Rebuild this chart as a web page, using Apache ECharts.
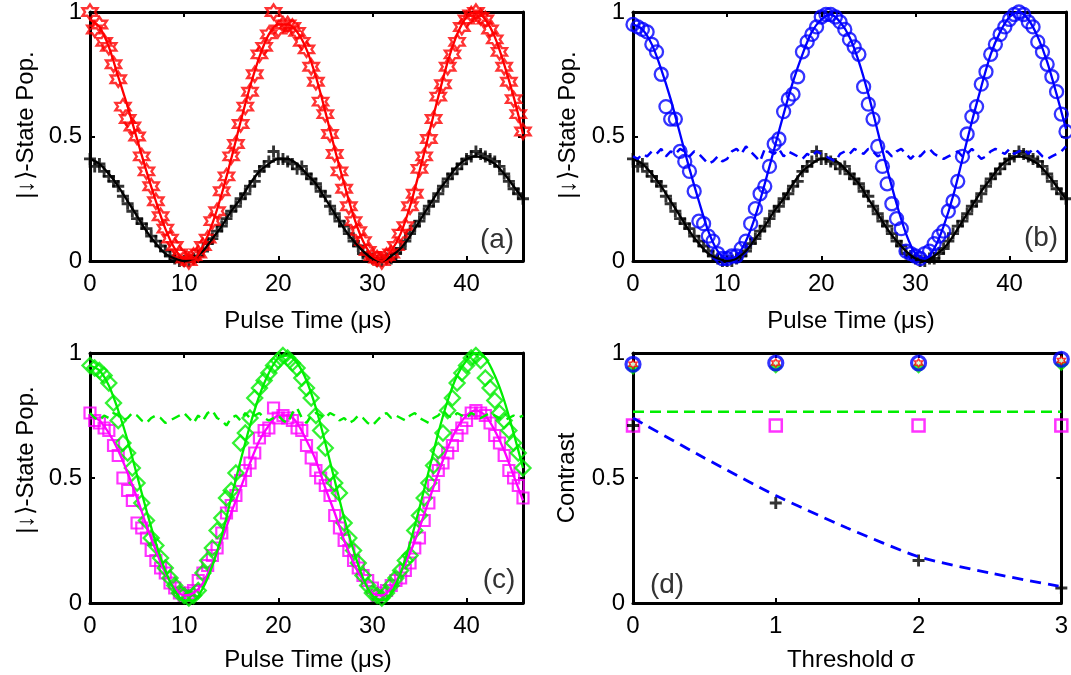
<!DOCTYPE html>
<html>
<head>
<meta charset="utf-8">
<script src="https://cdn.jsdelivr.net/npm/echarts@6/dist/echarts.min.js"></script>
<style>
html,body{margin:0;padding:0;background:#fff;}
#chart{width:1071px;height:675px;}
</style>
</head>
<body>
<div id="chart"></div>
<script>
// ---------- DATA ----------
const tData = [0,0.5,1,1.5,2,2.5,3,3.5,4,4.5,5,5.5,6,6.5,7,7.5,8,8.5,9,9.5,
10,10.5,11,11.5,12,12.5,13,13.5,14,14.5,15,15.5,16,16.5,17,17.5,18,18.5,19,19.5,
20,20.5,21,21.5,22,22.5,23,23.5,24,24.5,25,25.5,26,26.5,27,27.5,28,28.5,29,29.5,
30,30.5,31,31.5,32,32.5,33,33.5,34,34.5,35,35.5,36,36.5,37,37.5,38,38.5,39,39.5,
40,40.5,41,41.5,42,42.5,43,43.5,44,44.5,45,45.5,46];
const tFit = [0,1,2,3,4,5,6,7,8,9,10,11,12,13,14,15,16,17,18,19,20,21,22,23,24,25,26,27,28,29,30,31,32,33,34,35,36,37,38,39,40,41,42,43,44,45,46];

// panel (a): red hexagrams
const redData = [1.00,0.93,0.95,0.88,0.86,0.79,0.73,0.62,0.57,0.54,
0.50,0.42,0.36,0.30,0.24,0.18,0.13,0.09,0.06,0.03,
0.01,0.00,0.02,0.03,0.06,0.09,0.16,0.20,0.28,0.34,
0.42,0.47,0.55,0.62,0.68,0.75,0.83,0.86,0.91,1.00,
0.93,0.95,0.95,0.94,0.92,0.88,0.85,0.78,0.72,0.64,
0.59,0.51,0.43,0.36,0.29,0.22,0.16,0.12,0.08,0.04,
0.02,0.01,0.00,0.02,0.03,0.06,0.11,0.14,0.22,0.27,
0.37,0.42,0.49,0.57,0.66,0.71,0.78,0.83,0.88,0.94,
0.97,0.99,1.00,0.98,0.97,0.93,0.89,0.84,0.78,0.72,
0.65,0.59,0.52];
const redFit = [0.97,0.94,0.86,0.74,0.62,0.49,0.36,0.24,0.13,0.05,0.01,0.01,0.06,0.15,0.27,0.41,0.56,0.70,0.82,0.91,0.95,0.95,0.92,0.85,0.74,0.60,0.45,0.31,0.18,0.08,0.02,0.00,0.04,0.11,0.22,0.36,0.51,0.66,0.80,0.91,0.98,1.00,0.97,0.90,0.79,0.66,0.51];

// panels (a),(b): black pluses
const blackData = [0.41,0.38,0.39,0.36,0.34,0.32,0.30,0.26,0.23,0.20,
0.17,0.15,0.13,0.10,0.08,0.06,0.04,0.02,0.01,0.00,
0.00,0.00,0.01,0.02,0.04,0.07,0.09,0.12,0.14,0.17,
0.20,0.22,0.25,0.27,0.30,0.32,0.36,0.38,0.40,0.44,
0.41,0.41,0.40,0.39,0.37,0.38,0.35,0.33,0.31,0.28,
0.26,0.22,0.19,0.16,0.14,0.11,0.08,0.06,0.03,0.02,
0.01,0.00,0.00,0.01,0.01,0.03,0.05,0.08,0.11,0.14,
0.16,0.19,0.22,0.24,0.27,0.30,0.33,0.35,0.37,0.39,
0.41,0.42,0.44,0.43,0.42,0.41,0.40,0.38,0.35,0.32,
0.29,0.27,0.25];
const blackFit = [0.41,0.39,0.35,0.30,0.24,0.18,0.12,0.07,0.03,0.01,0.00,0.01,0.04,0.09,0.14,0.20,0.25,0.31,0.36,0.39,0.41,0.41,0.39,0.35,0.31,0.25,0.19,0.13,0.08,0.04,0.01,0.00,0.02,0.05,0.10,0.16,0.22,0.28,0.33,0.38,0.41,0.42,0.41,0.39,0.35,0.30,0.25];

// panel (b): blue circles, blue dashed
const blueData = [0.95,0.94,0.93,0.92,0.87,0.84,0.75,0.62,0.57,0.57,
0.44,0.40,0.36,0.28,0.16,0.15,0.10,0.08,0.03,0.01,
0.01,0.02,0.02,0.05,0.08,0.15,0.21,0.27,0.30,0.38,
0.47,0.49,0.60,0.65,0.67,0.74,0.84,0.88,0.91,0.94,
0.98,0.99,0.99,0.98,0.96,0.93,0.89,0.86,0.83,0.70,
0.63,0.57,0.46,0.38,0.31,0.23,0.17,0.13,0.04,0.03,
0.02,0.01,0.03,0.04,0.07,0.10,0.12,0.20,0.24,0.32,
0.42,0.51,0.58,0.62,0.71,0.76,0.83,0.87,0.91,0.94,
0.97,0.99,1.00,0.99,0.96,0.94,0.88,0.84,0.79,0.74,
0.68,0.59,0.52];
const blueFit = [0.95,0.93,0.87,0.77,0.65,0.51,0.37,0.24,0.12,0.04,0.01,0.02,0.08,0.18,0.31,0.45,0.59,0.72,0.83,0.92,0.97,0.99,0.96,0.90,0.80,0.67,0.52,0.37,0.23,0.11,0.03,0.01,0.05,0.14,0.26,0.41,0.56,0.70,0.83,0.92,0.98,1.00,0.97,0.90,0.80,0.67,0.53];
const blueDash = [0.42,0.41,0.43,0.42,0.44,0.43,0.45,0.42,0.44,0.43,
0.45,0.44,0.42,0.44,0.43,0.41,0.39,0.40,0.42,0.40,
0.41,0.44,0.45,0.43,0.46,0.44,0.42,0.40,0.45,0.44,
0.43,0.45,0.42,0.44,0.43,0.42,0.41,0.43,0.42,0.44,
0.43,0.42,0.41,0.40,0.43,0.44,0.43,0.45,0.44,0.43,
0.45,0.44,0.42,0.43,0.44,0.42,0.44,0.45,0.43,0.41,
0.43,0.42,0.44,0.45,0.43,0.42,0.41,0.42,0.43,0.44,
0.42,0.43,0.45,0.43,0.41,0.42,0.44,0.45,0.44,0.43,
0.45,0.43,0.44,0.45,0.43,0.45,0.44,0.42,0.41,0.42,
0.43,0.44,0.46];

// panel (c): green diamonds, magenta squares, green dashed
const greenData = [0.95,0.94,0.93,0.91,0.88,0.80,0.73,0.64,0.60,0.54,
0.48,0.40,0.33,0.26,0.23,0.18,0.14,0.10,0.07,0.04,
0.03,0.02,0.03,0.05,0.12,0.17,0.22,0.29,0.34,0.42,
0.45,0.52,0.64,0.68,0.74,0.82,0.86,0.89,0.92,0.95,
0.97,0.99,0.98,0.96,0.94,0.90,0.86,0.82,0.75,0.69,
0.62,0.52,0.48,0.44,0.32,0.26,0.21,0.16,0.11,0.07,
0.04,0.03,0.02,0.04,0.07,0.10,0.13,0.17,0.19,0.29,
0.35,0.42,0.48,0.55,0.61,0.68,0.77,0.82,0.88,0.92,
0.95,0.98,0.99,0.97,0.90,0.86,0.81,0.76,0.73,0.69,
0.64,0.60,0.54];
const greenFit = [0.95,0.93,0.87,0.77,0.65,0.51,0.37,0.24,0.13,0.05,0.01,0.01,0.06,0.15,0.27,0.42,0.57,0.71,0.83,0.92,0.98,0.99,0.96,0.89,0.78,0.64,0.49,0.34,0.21,0.10,0.03,0.01,0.04,0.12,0.24,0.38,0.53,0.68,0.81,0.91,0.97,1.00,0.98,0.91,0.81,0.68,0.54];
const magentaData = [0.76,0.73,0.72,0.70,0.69,0.63,0.59,0.50,0.45,0.41,
0.32,0.30,0.26,0.21,0.17,0.14,0.12,0.08,0.06,0.04,
0.03,0.04,0.05,0.09,0.12,0.15,0.19,0.22,0.28,0.36,
0.39,0.43,0.49,0.53,0.56,0.60,0.66,0.69,0.70,0.78,
0.74,0.75,0.74,0.73,0.70,0.69,0.63,0.58,0.53,0.50,
0.47,0.43,0.35,0.30,0.25,0.21,0.17,0.14,0.11,0.09,
0.06,0.03,0.04,0.05,0.07,0.09,0.10,0.13,0.16,0.22,
0.26,0.33,0.40,0.47,0.53,0.56,0.60,0.63,0.67,0.70,
0.73,0.76,0.77,0.76,0.75,0.72,0.67,0.64,0.59,0.53,
0.50,0.47,0.42];
const magentaFit = [0.75,0.73,0.68,0.61,0.52,0.42,0.31,0.21,0.12,0.06,0.03,0.04,0.08,0.16,0.25,0.36,0.46,0.56,0.65,0.71,0.75,0.75,0.72,0.65,0.57,0.46,0.36,0.25,0.16,0.09,0.04,0.03,0.06,0.12,0.20,0.30,0.41,0.52,0.62,0.70,0.75,0.77,0.75,0.69,0.61,0.51,0.41];
const greenDash = [0.76,0.74,0.73,0.75,0.74,0.76,0.75,0.73,0.74,0.76,
0.75,0.73,0.72,0.74,0.75,0.74,0.72,0.73,0.74,0.75,
0.76,0.74,0.72,0.75,0.73,0.76,0.77,0.74,0.73,0.71,
0.74,0.75,0.73,0.76,0.74,0.75,0.76,0.74,0.73,0.74,
0.75,0.73,0.72,0.76,0.78,0.74,0.72,0.75,0.76,0.75,
0.74,0.76,0.75,0.73,0.74,0.72,0.73,0.75,0.74,0.72,
0.71,0.73,0.75,0.76,0.74,0.75,0.74,0.73,0.75,0.76,
0.74,0.73,0.72,0.74,0.75,0.77,0.75,0.74,0.76,0.75,
0.74,0.76,0.75,0.74,0.75,0.76,0.75,0.74,0.73,0.74,
0.75,0.74,0.75];

// panel (d): contrast vs threshold
const thr = [0,1,2,3];
const dBlue = [0.955,0.96,0.96,0.975];
const dRed = [0.955,0.96,0.96,0.97];
const dGreen = [0.94,0.945,0.945,0.955];
const dMagenta = [0.71,0.71,0.71,0.71];
const dBlack = [0.71,0.40,0.17,0.06];
const dGreenDash = [0.765,0.765,0.765,0.765];
const thrFine = [0,0.5,1,1.5,2,2.5,3];
const dBlueDash = [0.74,0.58,0.43,0.30,0.185,0.12,0.065];

const xTicksTime = [0,10,20,30,40];
const yTicks = [0,0.5,1];

// ---------- CHART ----------
const FONT = 'Liberation Sans, Arial, Helvetica, sans-serif';
const zip = (xs, ys) => xs.map((x, i) => [x, ys[i]]);
const HEX = 'path://M10,0L12.887,5L18.66,5L15.77,10L18.66,15L12.887,15L10,20L7.113,15L1.34,15L4.23,10L1.34,5L7.113,5Z';
const PLUS = 'path://M3.8,0H6.2V10H3.8Z M0,3.8H10V6.2H0Z';

const grids = [
  {left: 90, top: 11, width: 433, height: 250},
  {left: 633, top: 11, width: 433, height: 250},
  {left: 90, top: 353, width: 433, height: 250},
  {left: 633, top: 353, width: 433, height: 250}
];

const axLine = {show: true, onZero: false, lineStyle: {color: '#000', width: 3}};
const axTick = {show: true, inside: true, length: 5, lineStyle: {color: '#000', width: 2}};
const lab = {color: '#000', fontSize: 24, fontFamily: FONT};

const xAxes = [], yAxes = [];
grids.forEach((g, i) => {
  const isD = i === 3;
  xAxes.push({
    gridIndex: i, type: 'value', position: 'bottom',
    min: 0, max: isD ? 3 : 46, interval: isD ? 1 : 10,
    axisLine: axLine, axisTick: axTick, splitLine: {show: false},
    axisLabel: Object.assign({}, lab, {margin: 11, showMaxLabel: isD,
      formatter: v => (isD ? thr.includes(v) : xTicksTime.includes(v)) ? String(v) : ''})
  });
  xAxes.push({
    gridIndex: i, type: 'value', position: 'top',
    min: 0, max: isD ? 3 : 46, interval: isD ? 1 : 10,
    axisLine: axLine, axisTick: axTick, splitLine: {show: false},
    axisLabel: {show: false}
  });
  yAxes.push({
    gridIndex: i, type: 'value', position: 'left',
    min: 0, max: 1, interval: 0.5,
    axisLine: axLine, axisTick: axTick, splitLine: {show: false},
    axisLabel: Object.assign({}, lab, {margin: 8,
      formatter: v => yTicks.includes(v) ? String(v) : ''})
  });
  yAxes.push({
    gridIndex: i, type: 'value', position: 'right',
    min: 0, max: 1, interval: 0.5,
    axisLine: axLine, axisTick: axTick, splitLine: {show: false},
    axisLabel: {show: false}
  });
});

function scatter(g, data, symbol, size, color, opts) {
  return Object.assign({
    type: 'scatter', xAxisIndex: 2 * g, yAxisIndex: 2 * g,
    data: data, symbol: symbol, symbolSize: size, silent: true,
    itemStyle: {color: 'transparent', borderColor: color, borderWidth: 2, opacity: 1},
    animation: false
  }, opts || {});
}
function line(g, data, color, opts) {
  return Object.assign({
    type: 'line', xAxisIndex: 2 * g, yAxisIndex: 2 * g,
    data: data, showSymbol: false, symbol: 'none', smooth: 0.3, silent: true,
    lineStyle: {color: color, width: 2.3}, animation: false
  }, opts || {});
}
const dash = (g, data, color, pat) => line(g, data, color, {smooth: false,
  lineStyle: {color: color, width: 2.5, type: pat || [9, 6]}});

const RED = '#ff0000', BLUE = '#0000ff', GREEN = '#00ee00', MAG = '#ff00ff', BLK = '#000000';

const series = [
  // (a)
  scatter(0, zip(tData, blackData), PLUS, 12, BLK, {itemStyle: {color: BLK}}),
  line(0, zip(tFit, blackFit), BLK),
  scatter(0, zip(tData, redData), HEX, 15, RED, {itemStyle: {color: 'transparent', borderColor: RED, borderWidth: 2.4}}),
  line(0, zip(tFit, redFit), RED),
  // (b)
  scatter(1, zip(tData, blackData), PLUS, 12, BLK, {itemStyle: {color: BLK}}),
  line(1, zip(tFit, blackFit), BLK),
  dash(1, zip(tData, blueDash), BLUE),
  scatter(1, zip(tData, blueData), 'circle', 13, BLUE, {itemStyle: {color: 'transparent', borderColor: BLUE, borderWidth: 2.3}}),
  line(1, zip(tFit, blueFit), BLUE),
  // (c)
  scatter(2, zip(tData, magentaData), 'rect', 11, MAG, {itemStyle: {color: 'transparent', borderColor: MAG, borderWidth: 2.2}}),
  line(2, zip(tFit, magentaFit), MAG),
  dash(2, zip(tData, greenDash), GREEN),
  scatter(2, zip(tData, greenData), 'diamond', 15, GREEN, {itemStyle: {color: 'transparent', borderColor: GREEN, borderWidth: 2.3}}),
  line(2, zip(tFit, greenFit), GREEN),
  // (d)
  dash(3, zip(thr, dGreenDash), GREEN, [11, 6]),
  line(3, zip(thrFine, dBlueDash), BLUE, {smooth: 0.2, lineStyle: {color: BLUE, width: 2.8, type: [11, 7]}}),
  scatter(3, zip(thr, dMagenta), 'rect', 12, MAG, {itemStyle: {color: 'transparent', borderColor: MAG, borderWidth: 2.5}}),
  scatter(3, zip(thr, dBlack), PLUS, 12, BLK, {itemStyle: {color: BLK}}),
  scatter(3, zip(thr, dGreen), 'diamond', 14, GREEN, {itemStyle: {color: GREEN}}),
  scatter(3, zip(thr, dBlue), 'circle', 14, BLUE, {itemStyle: {color: 'transparent', borderColor: BLUE, borderWidth: 3.2}}),
  scatter(3, zip(thr, dRed), HEX, 8, RED, {itemStyle: {color: '#fff', borderColor: RED, borderWidth: 1.5}})
];

const titleStyle = {fill: '#000', font: '24px ' + FONT, align: 'center', verticalAlign: 'middle'};
const panelStyle = {fill: '#333', font: '28px ' + FONT, align: 'center', verticalAlign: 'middle'};
const txt = (x, y, text, style, rot) => ({type: 'text', x: x, y: y, rotation: rot || 0, z: 100, silent: true,
  style: Object.assign({text: text}, style)});

const graphic = [
  txt(308, 321, 'Pulse Time (\u03bcs)', titleStyle),
  txt(851, 321, 'Pulse Time (\u03bcs)', titleStyle),
  txt(308, 660, 'Pulse Time (\u03bcs)', titleStyle),
  txt(851, 660, 'Threshold \u03c3', titleStyle),
  txt(26, 125, '|\u2193\u27e9-State Pop.', titleStyle, Math.PI / 2),
  txt(568, 125, '|\u2193\u27e9-State Pop.', titleStyle, Math.PI / 2),
  txt(26, 460, '|\u2193\u27e9-State Pop.', titleStyle, Math.PI / 2),
  txt(567, 478, 'Contrast', titleStyle, Math.PI / 2),
  txt(497, 240, '(a)', panelStyle),
  txt(1041, 238, '(b)', panelStyle),
  txt(499, 580, '(c)', panelStyle),
  txt(667, 585, '(d)', panelStyle)
];

const chart = echarts.init(document.getElementById('chart'), null, {renderer: 'canvas'});
chart.setOption({
  animation: false,
  backgroundColor: '#fff',
  grid: grids.map(g => Object.assign({containLabel: false, show: false}, g)),
  xAxis: xAxes,
  yAxis: yAxes,
  series: series,
  graphic: graphic
});
</script>
</body>
</html>
